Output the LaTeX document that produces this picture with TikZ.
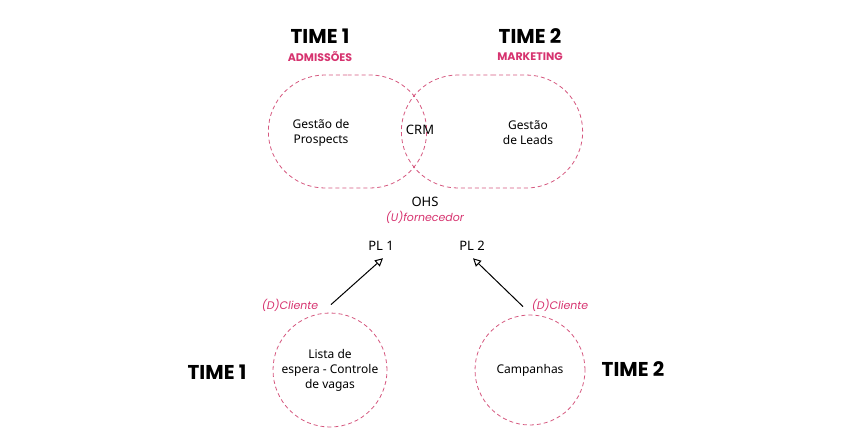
\documentclass[tikz,border=0pt]{standalone}
\usepackage{fontspec}
\setmainfont{Noto Sans}
\newfontfamily\headf{Poppins}
\usetikzlibrary{shapes.misc,arrows.meta}
\definecolor{pk}{HTML}{D6336F}
\definecolor{pkl}{HTML}{D5587F}
\begin{document}
\begin{tikzpicture}[x=1pt,y=-1pt,
  team/.style={font=\headf\bfseries\fontsize{20}{22}\selectfont},
  sub/.style={font=\headf\bfseries\fontsize{11}{13}\selectfont,text=pk},
  lbl/.style={font=\headf\itshape\fontsize{11}{13}\selectfont,text=pk},
  body/.style={font=\fontsize{12}{15}\selectfont,align=center},
  bold/.style={font=\bfseries\fontsize{13}{15}\selectfont},
  dsh/.style={draw=pkl,dashed,dash pattern=on 4pt off 3pt,line width=0.8pt},
  arr/.style={-{Triangle[open,length=8pt,width=8pt]},line width=1pt}]
\useasboundingbox (0,0) rectangle (851,447);
\node[team] (t1) at (320,36) {TIME 1};
\node[sub] (a1) at (320,57) {ADMISSÕES};
\node[team] (t2) at (530,36) {TIME 2};
\node[sub] (a2) at (530,57) {MARKETING};
\node[dsh,rounded rectangle,minimum width=165,minimum height=113] (s1) at (347.5,131.5) {};
\node[dsh,rounded rectangle,minimum width=188,minimum height=113] (s2) at (492,131.5) {};
\node[body] (gp) at (321,133) {Gestão de\\Prospects};
\node[bold] (crm) at (420,130) {CRM};
\node[body] (gl) at (528,133) {Gestão\\de Leads};
\node[bold] (ohs) at (425,202) {OHS};
\node[lbl] (uf) at (425,217) {(U)fornecedor};
\node[bold] (pl1) at (381,246) {PL 1};
\node[bold] (pl2) at (472,246) {PL 2};
\node[dsh,circle,minimum size=110,body] (c1) at (330,370) {Lista de\\espera - Controle\\de vagas};
\node[dsh,circle,minimum size=110,body] (c2) at (530,370) {Campanhas};
\node[lbl] (d1) at (290,305) {(D)Cliente};
\node[lbl] (d2) at (560,305) {(D)Cliente};
\node[team] (b1) at (217,372) {TIME 1};
\node[team] (b2) at (633,369) {TIME 2};
\coordinate (e1) at ([shift={(1,-8)}]c1.north);
\coordinate (e2) at ([shift={(-7,-8)}]c2.north);
\draw[arr] (e1) -- ([shift={(2,4)}]pl1.south);
\draw[arr] (e2) -- ([shift={(1,4)}]pl2.south);
\end{tikzpicture}
\end{document}
